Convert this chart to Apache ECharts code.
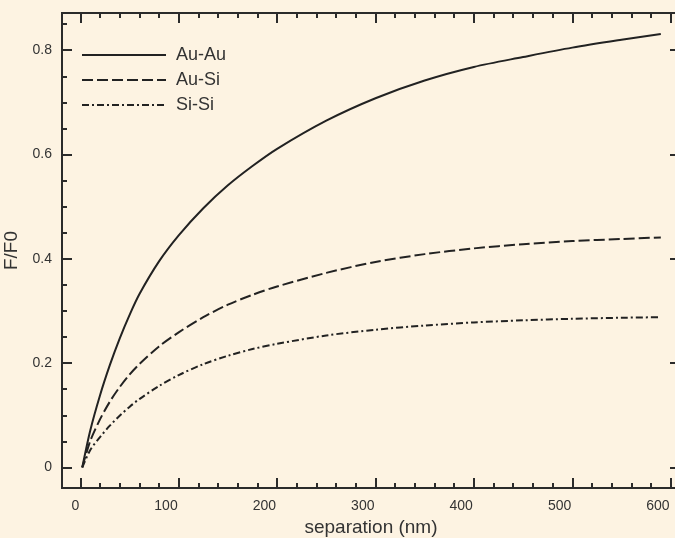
<!DOCTYPE html>
<html>
<head>
<meta charset="utf-8">
<script src="https://cdn.jsdelivr.net/npm/echarts@6/dist/echarts.min.js"></script>
<style>
  html, body { margin: 0; padding: 0; background: #fdf3e2; }
  #chart { width: 675px; height: 538px; }
</style>
</head>
<body>
<div id="chart"></div>
<script>
// separation (nm)
const separation = [2, 10, 20, 30, 40, 50, 60, 80, 100, 125, 150, 175, 200, 250, 300, 350, 400, 450, 500, 550, 590]
// F/F0 for each pair of materials
const auAu = [0, 0.07, 0.138, 0.196, 0.247, 0.292, 0.332, 0.395, 0.445, 0.497, 0.541, 0.578, 0.611, 0.665, 0.708, 0.742, 0.768, 0.787, 0.805, 0.82, 0.831]
const auSi = [0, 0.05, 0.092, 0.126, 0.154, 0.178, 0.198, 0.232, 0.259, 0.288, 0.312, 0.331, 0.347, 0.373, 0.394, 0.409, 0.42, 0.428, 0.434, 0.438, 0.441]
const siSi = [0, 0.033, 0.058, 0.08, 0.099, 0.116, 0.131, 0.156, 0.177, 0.198, 0.214, 0.227, 0.237, 0.253, 0.264, 0.272, 0.278, 0.282, 0.285, 0.287, 0.288]

const xMajor = [0, 100, 200, 300, 400, 500, 600]
const xMinor = [20, 40, 60, 80, 120, 140, 160, 180, 220, 240, 260, 280, 320, 340, 360, 380, 420, 440, 460, 480, 520, 540, 560, 580]
const yMajor = [0, 0.2, 0.4, 0.6, 0.8]
const yMinor = [0.05, 0.1, 0.15, 0.25, 0.3, 0.35, 0.45, 0.5, 0.55, 0.65, 0.7, 0.75, 0.85]

const ink = '#2b2b2b'
const font = 'Liberation Sans, Arial, sans-serif'

function pairs(ys) {
    return separation.map((x, i) => [x, ys[i]])
}

// one axis per tick set: major/minor on each of the four sides
function xAx(pos, ticks, len, labels) {
    return {
        type: 'value', position: pos, min: -18.6, max: 609.5,
        axisLine: { show: true, onZero: false, lineStyle: { color: ink, width: 2 } },
        axisTick: { show: true, inside: true, length: len, customValues: ticks, lineStyle: { color: ink, width: 2 } },
        // labels sit to the left of their tick, like the original
        axisLabel: { show: labels, customValues: ticks, color: '#333', fontSize: 14, fontFamily: font, margin: 11, align: 'right', padding: [0, 1, 0, 0] },
        splitLine: { show: false }
    }
}
function yAx(pos, ticks, len, labels) {
    return {
        type: 'value', position: pos, min: -0.0395, max: 0.8714,
        axisLine: { show: true, onZero: false, lineStyle: { color: ink, width: 2 } },
        axisTick: { show: true, inside: true, length: len, customValues: ticks, lineStyle: { color: ink, width: 2 } },
        axisLabel: { show: labels, customValues: ticks, color: '#333', fontSize: 14, fontFamily: font, margin: 10 },
        splitLine: { show: false }
    }
}

const xAxes = [xAx('bottom', xMajor, 10, true), xAx('bottom', xMinor, 5, false), xAx('top', xMajor, 10, false), xAx('top', xMinor, 5, false)]
xAxes[0].name = 'separation (nm)'
xAxes[0].nameLocation = 'middle'
xAxes[0].nameGap = 30
xAxes[0].nameTextStyle = { color: '#333', fontSize: 19, fontFamily: font, align: 'center' }

const yAxes = [yAx('left', yMajor, 10, true), yAx('left', yMinor, 5, false), yAx('right', yMajor, 10, false), yAx('right', yMinor, 5, false)]
yAxes[0].name = 'F/F0'
yAxes[0].nameLocation = 'middle'
yAxes[0].nameGap = 35
yAxes[0].nameTextStyle = { color: '#333', fontSize: 19, fontFamily: font }

function line(name, ys, dash) {
    return {
        name: name,
        type: 'line',
        data: pairs(ys),
        showSymbol: false,
        symbol: 'none',
        smooth: 0.3,
        lineStyle: { color: '#222', width: 2, type: dash }
    }
}

const chart = echarts.init(document.getElementById('chart'))
chart.setOption({
    backgroundColor: '#fdf3e2',
    animation: false,
    // the original frame runs past the right edge of the picture
    grid: { left: 62, right: -5, top: 13, bottom: 50, outerBoundsMode: 'none' },
    legend: {
        orient: 'vertical',
        left: 76,
        top: 39,
        itemWidth: 84,
        itemHeight: 14,
        itemGap: 3,
        itemStyle: { opacity: 0 },
        textStyle: { color: '#333', fontSize: 18, fontFamily: font, lineHeight: 18, padding: [4, 0, 0, 5] },
        data: ['Au-Au', 'Au-Si', 'Si-Si']
    },
    xAxis: xAxes,
    yAxis: yAxes,
    series: [
        line('Au-Au', auAu, 'solid'),
        line('Au-Si', auSi, [11, 4]),
        line('Si-Si', siSi, [7, 3, 2, 3])
    ]
})
</script>
</body>
</html>
